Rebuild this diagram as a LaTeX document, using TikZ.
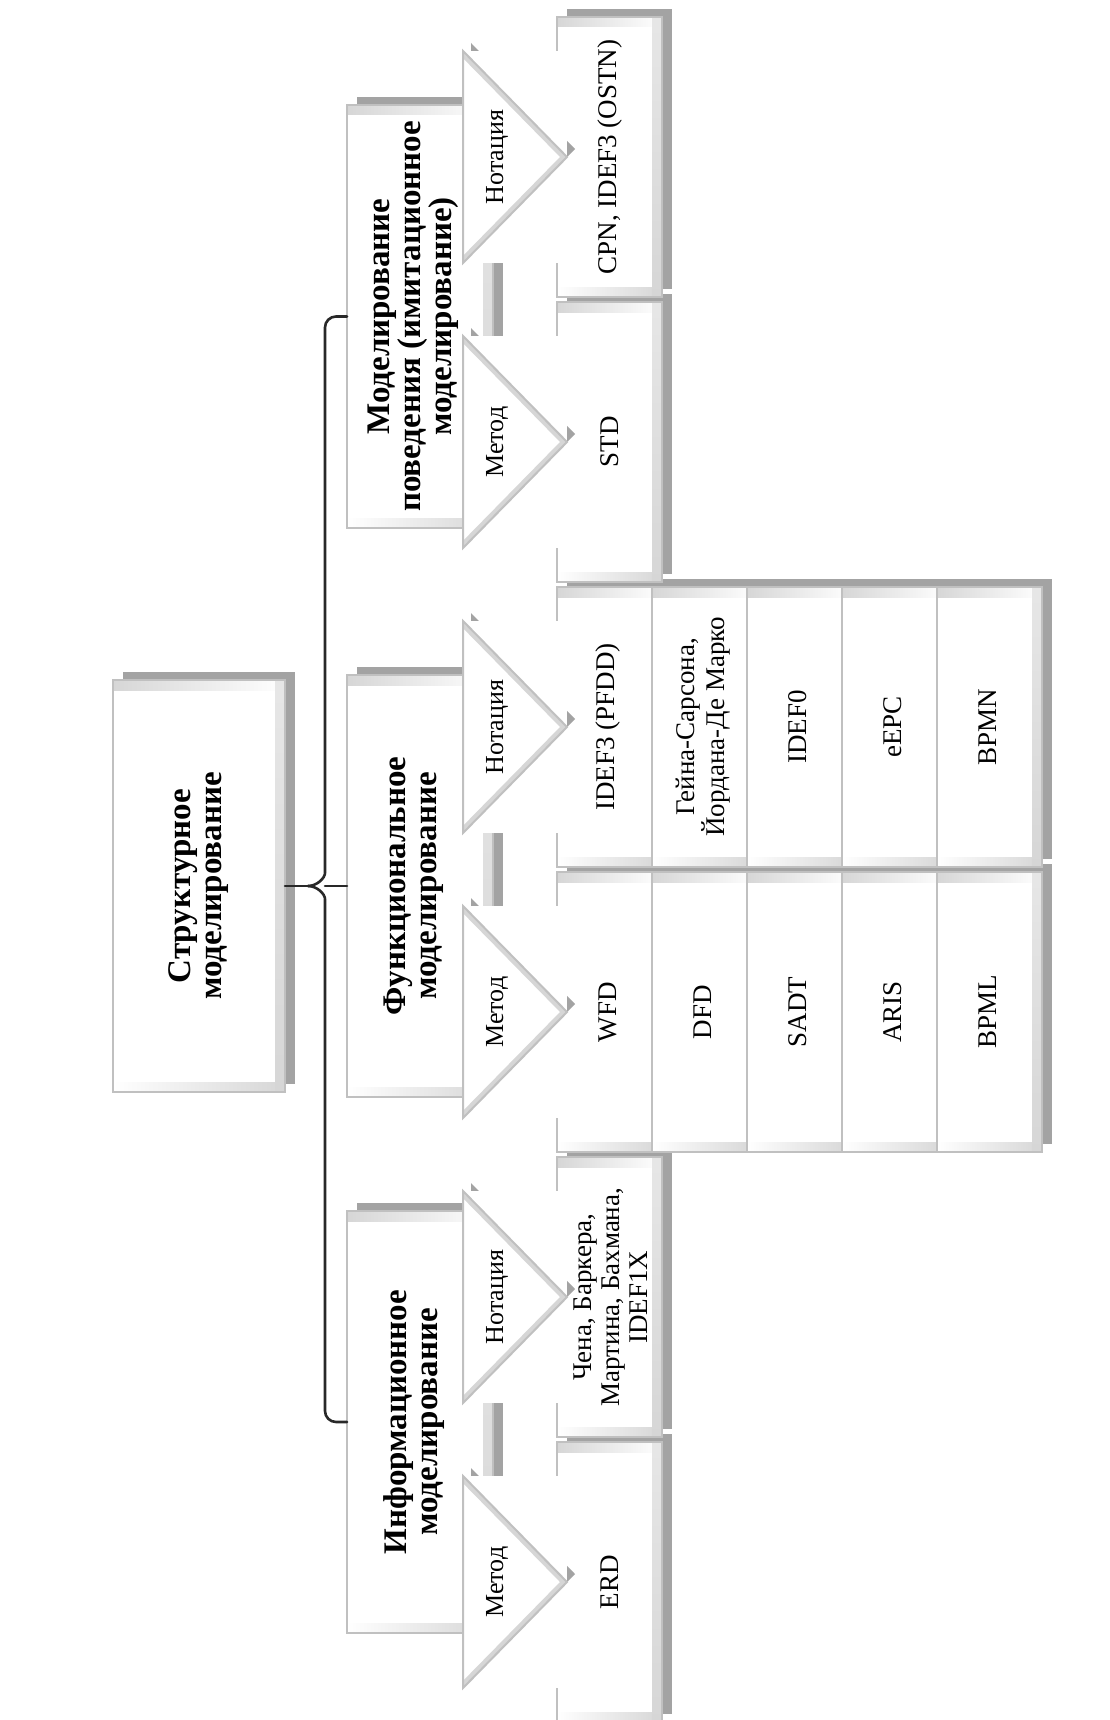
\documentclass[tikz,border=0pt]{standalone}
\usepackage{fontspec}
\setmainfont{Liberation Serif}
\usetikzlibrary{calc}

\definecolor{edgegray}{RGB}{192,192,192}
\definecolor{shadowgray}{RGB}{163,163,163}
\definecolor{bevelgray}{RGB}{214,214,214}
\definecolor{bracecol}{RGB}{40,40,40}

\tikzset{
  boxedge/.style={draw=edgegray, line width=2pt},
  headtext/.style={font=\fontsize{33}{31}\selectfont\bfseries, align=center, rotate=90, inner sep=0pt},
  tagtext/.style={font=\fontsize{26}{28}\selectfont, rotate=90, inner sep=0pt},
  leaftext/.style={font=\fontsize{27}{28}\selectfont, align=center, rotate=90, inner sep=0pt},
  brace/.style={draw=bracecol, line width=2.6pt, line cap=round},
}

% dark shadow of a box, shifted up and to the right
\newcommand\boxshadow[4]{%
  \fill[shadowgray] ({(#1)+10},{(#2)-8}) rectangle ({(#3)+10},{(#4)-8});}

% bevelled box body with a named node covering it
\newcommand\boxbody[5]{%
  \begin{scope}
    \clip (#2,#3) rectangle (#4,#5);
    \fill[white] (#2,#3) rectangle (#4,#5);
    \shade[left color=bevelgray, right color=white] (#2,#3) rectangle (#4,{(#3)+10});
    \shade[left color=white, right color=bevelgray] (#2,{(#5)-10}) rectangle (#4,#5);
    \shade[top color=bevelgray!60, bottom color=bevelgray] ({(#4)-10},#3) rectangle (#4,#5);
  \end{scope}
  \draw[boxedge] (#2,#3) rectangle (#4,#5);
  \node[inner sep=0pt, outer sep=0pt, minimum width={(#4)-(#2)}, minimum height={(#5)-(#3)}]
    (#1) at ({((#2)+(#4))/2},{((#3)+(#5))/2}) {};
}

% triangular tag pointing right, on a white backing
\newcommand\tagtri[3]{%
  \fill[shadowgray] (471,{(#2)-114}) -- (575,{(#2)-8}) -- (471,{(#2)+98}) -- cycle;
  \fill[white] (463,{(#2)-106}) rectangle (567,{(#2)+106});
  \begin{scope}
    \clip (463,{(#2)-106}) -- (567,#2) -- (463,{(#2)+106}) -- cycle;
    \draw[bevelgray, line width=10pt] (463,{(#2)-106}) -- (567,#2) -- (463,{(#2)+106});
  \end{scope}
  \draw[boxedge, line join=miter] (463,{(#2)-106}) -- (567,#2) -- (463,{(#2)+106}) -- cycle;
  \node[tagtext] (#1) at (497,#2) {#3};
}

\begin{document}
\begin{tikzpicture}[x=1pt,y=-1pt]
\useasboundingbox (0,0) rectangle (1110,1720);
\fill[white] (0,0) rectangle (1110,1720);

% top level
\boxshadow{113}{680}{285}{1092}
\boxbody{root}{113}{680}{285}{1092}
\node[headtext] (roottext) at (root.center) {Структурное\\моделирование};

% second level
\boxshadow{347}{105}{493}{528}
\boxshadow{347}{675}{493}{1097}
\boxshadow{347}{1211}{493}{1633}
\boxbody{behav}{347}{105}{493}{528}
\boxbody{func}{347}{675}{493}{1097}
\boxbody{info}{347}{1211}{493}{1633}
\node[headtext] (behavtext) at ($(behav.center)+(-7,0)$) {Моделирование\\поведения (имитационное\\моделирование)};
\node[headtext] (functext) at ($(func.center)+(-6,0)$) {Функциональное\\моделирование};
\node[headtext] (infotext) at ($(info.center)+(-6,0)$) {Информационное\\моделирование};

% curly brace joining the levels
\coordinate (tip) at ($(root.east)+(23,0)$);
\coordinate (spine) at ($(root.east)+(40,0)$);
\draw[brace, rounded corners=11pt] (behav.west) -| ($(spine)+(0,-24)$)
  .. controls ($(spine)+(0,-8)$) and ($(tip)+(9,0)$) .. (tip);
\draw[brace, rounded corners=11pt] (info.west) -| ($(spine)+(0,24)$)
  .. controls ($(spine)+(0,8)$) and ($(tip)+(9,0)$) .. (tip);
\draw[brace] (root.east) -- (tip);
\draw[brace] (spine) -- (func.west);

% leaf shadows
\boxshadow{557}{17}{662}{297}
\boxshadow{557}{302}{662}{582}
\foreach \j in {0,...,4} {
  \boxshadow{557+95*\j}{587}{662+95*\j}{867}
  \boxshadow{557+95*\j}{872}{662+95*\j}{1152}
}
\boxshadow{557}{1157}{662}{1437}
\boxshadow{557}{1442}{662}{1722}

% leaves: behaviour
\boxbody{cpn}{557}{17}{662}{297}
\node[leaftext] (cpntext) at ($(cpn.west)+(53,0)$) {CPN, IDEF3 (OSTN)};
\boxbody{std}{557}{302}{662}{582}
\node[leaftext] (stdtext) at ($(std.west)+(53,0)$) {STD};

% leaves: functional notations and methods
\foreach \j/\txt in {0/{IDEF3 (PFDD)}, 1/{Гейна-Сарсона,\\Йордана-Де Марко}, 2/{IDEF0}, 3/{eEPC}, 4/{BPMN}} {
  \boxbody{fn\j}{557+95*\j}{587}{662+95*\j}{867}
  \node[leaftext] (fnt\j) at ($(fn\j.west)+(51,0)$) {\txt};
}
\foreach \j/\txt in {0/{WFD}, 1/{DFD}, 2/{SADT}, 3/{ARIS}, 4/{BPML}} {
  \boxbody{fm\j}{557+95*\j}{872}{662+95*\j}{1152}
  \node[leaftext] (fmt\j) at ($(fm\j.west)+(51,0)$) {\txt};
}

% leaves: information
\boxbody{chen}{557}{1157}{662}{1437}
\node[leaftext] (chentext) at ($(chen.west)+(54,0)$) {Чена, Баркера,\\Мартина, Бахмана,\\IDEF1X};
\boxbody{erd}{557}{1442}{662}{1722}
\node[leaftext] (erdtext) at ($(erd.west)+(53,0)$) {ERD};

% tags
\tagtri{bn}{157}{Нотация}
\tagtri{bm}{442}{Метод}
\tagtri{fn}{727}{Нотация}
\tagtri{fm}{1012}{Метод}
\tagtri{in}{1297}{Нотация}
\tagtri{im}{1582}{Метод}
\end{tikzpicture}
\end{document}
